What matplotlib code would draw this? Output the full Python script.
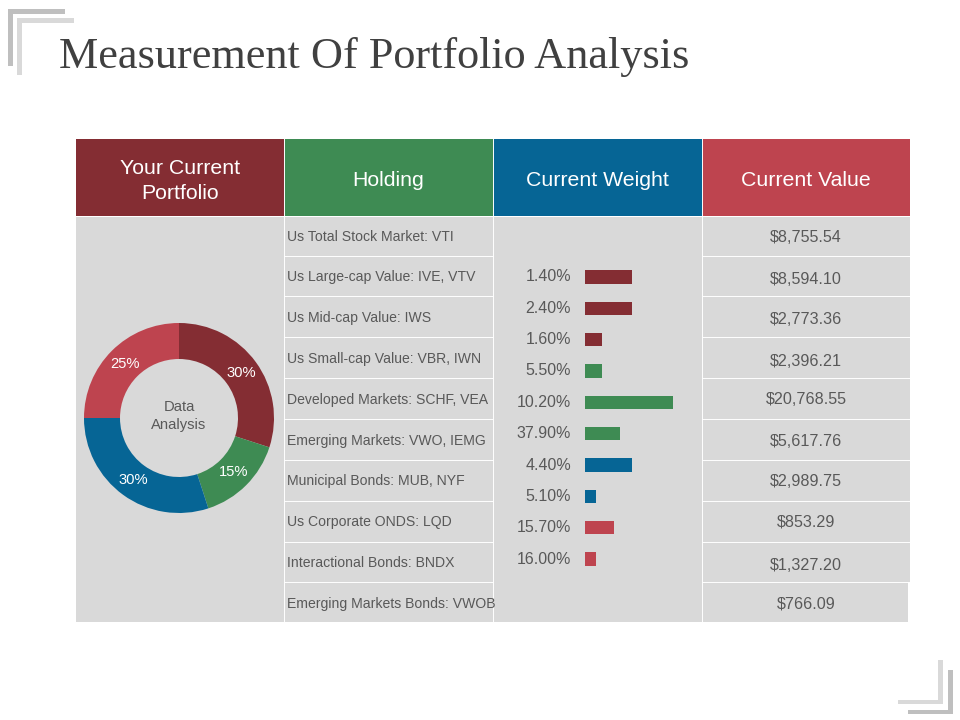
import matplotlib
matplotlib.use("Agg")
import matplotlib.pyplot as plt
from matplotlib.patches import Rectangle

# ---- data ----
title = "Measurement Of Portfolio Analysis"
headers = ["Your Current\nPortfolio", "Holding", "Current Weight", "Current Value"]
holdings = ["Us Total Stock Market: VTI", "Us Large-cap Value: IVE, VTV", "Us Mid-cap Value: IWS",
            "Us Small-cap Value: VBR, IWN", "Developed Markets: SCHF, VEA", "Emerging Markets: VWO, IEMG",
            "Municipal Bonds: MUB, NYF", "Us Corporate ONDS: LQD", "Interactional Bonds: BNDX",
            "Emerging Markets Bonds: VWOB"]
weight_labels = ["1.40%", "2.40%", "1.60%", "5.50%", "10.20%", "37.90%", "4.40%", "5.10%", "15.70%", "16.00%"]
bar_lengths = [47, 47, 17, 17, 88, 35, 47, 11, 29, 11]
values = ["$8,755.54", "$8,594.10", "$2,773.36", "$2,396.21", "$20,768.55", "$5,617.76",
          "$2,989.75", "$853.29", "$1,327.20", "$766.09"]
donut_values = [30, 15, 30, 25]
donut_center = "Data\nAnalysis"

# ---- style ----
DRED, GREEN, BLUE, RED = "#842D33", "#3E8B53", "#066595", "#BE444F"
GREY, TEXT = "#D9D9D9", "#595959"
header_colors = [DRED, GREEN, BLUE, RED]
donut_colors = [DRED, GREEN, BLUE, RED]
bar_colors = [DRED, DRED, DRED, GREEN, GREEN, GREEN, BLUE, BLUE, RED, RED]
SANS = "Liberation Sans"
W, H = 960, 720

fig = plt.figure(figsize=(9.6, 7.2), dpi=100, facecolor="white")


def px_axes(x0, y0, x1, y1, **kw):
    return fig.add_axes([x0 / W, 1 - y1 / H, (x1 - x0) / W, (y1 - y0) / H], **kw)


bg = px_axes(0, 0, W, H)
bg.set_xlim(0, W)
bg.set_ylim(H, 0)
bg.axis("off")


def box(x0, y0, x1, y1, color, z=1):
    bg.add_patch(Rectangle((x0, y0), x1 - x0, y1 - y0, fc=color, ec="none", zorder=z))


# corner decorations
for (ox, oy, c) in [(8, 9, "#BFBFBF"), (17, 18, "#D9D9D9")]:
    box(ox, oy, ox + 57, oy + 5, c)
    box(ox, oy, ox + 5, oy + 57, c)
for (ox, oy, c) in [(943, 704, "#D9D9D9"), (953, 714, "#BFBFBF")]:
    box(ox - 45, oy - 4, ox, oy, c)
    box(ox - 5, oy - 44, ox, oy, c)

bg.text(59, 57, title, family="Liberation Serif", fontsize=31.9, color="#404040", ha="left", va="center")

# table
col_x = [76, 284, 493, 702, 910]
row_lines = [255.5, 296, 337, 378, 418.5, 459.5, 500.5, 541.5, 582]
for i, (h, c) in enumerate(zip(headers, header_colors)):
    box(col_x[i], 139, col_x[i + 1], 216, c)
    bg.text((col_x[i] + col_x[i + 1]) / 2, 181, h, family=SANS, fontsize=15.3, color="white",
            ha="center", va="center", linespacing=1.4, zorder=3)
box(76, 217, 910, 582, GREY)
box(76, 582, 908, 621.5, GREY)
for x in col_x[1:4]:
    bg.plot([x, x], [139, 622], color="white", lw=0.7, zorder=2)
for y in row_lines:
    bg.plot([284, 493], [y, y], color="white", lw=0.7, zorder=2)
    bg.plot([702, 910], [y, y], color="white", lw=0.7, zorder=2)

holding_y = [237, 277, 318, 359, 400, 441, 481, 522, 563, 604]
value_y = [238, 279, 320, 361, 400, 441, 482, 522, 565, 604]
for y, s in zip(holding_y, holdings):
    bg.text(287, y, s, family=SANS, fontsize=10.05, color=TEXT, ha="left", va="center", zorder=3)
for y, s in zip(value_y, values):
    bg.text(806, y, s, family=SANS, fontsize=11.6, color=TEXT, ha="center", va="center", zorder=3)

# donut
ax_d = px_axes(84, 323, 274, 513)
ax_d.pie(donut_values, colors=donut_colors, startangle=90, counterclock=False, radius=1,
         wedgeprops=dict(width=36 / 95, linewidth=0), autopct="%d%%", pctdistance=0.81,
         textprops=dict(family=SANS, fontsize=10.6, color="white"))
ax_d.set_xlim(-1, 1)
ax_d.set_ylim(-1, 1)
ax_d.text(0, 0.02, donut_center, family=SANS, fontsize=10.6, color=TEXT, ha="center", va="center", linespacing=1.4)

# bars
ax_b = px_axes(585, 261.33, 685, 574.67)
ax_b.set_xlim(0, 100)
ax_b.set_ylim(9.5, -0.5)
ax_b.axis("off")
ypos = list(range(len(bar_lengths)))
ax_b.barh(ypos, bar_lengths, height=0.42, color=bar_colors, linewidth=0)
for i, s in zip(ypos, weight_labels):
    ax_b.text(-14, i, s, family=SANS, fontsize=11.5, color=TEXT, ha="right", va="center", clip_on=False)

fig.savefig("out.png", dpi=100, facecolor="white")
